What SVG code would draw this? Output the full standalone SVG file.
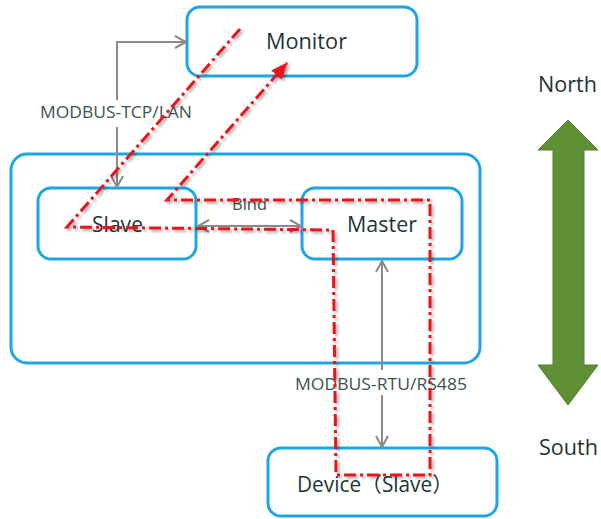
<svg xmlns="http://www.w3.org/2000/svg" width="601" height="519" viewBox="0 0 601 519">
<style>
.box{fill:#fff;stroke:#1ea5e3;stroke-width:3}
.name{font-family:"Open Sans","Noto Sans","Noto Sans CJK SC",sans-serif;font-size:21px;fill:#1d3535}
.lbl{font-family:"Open Sans","Noto Sans",sans-serif;font-size:16.5px;fill:#3d5252}
.gray{fill:none;stroke:#8a8a8a;stroke-width:2}
.red{fill:none;stroke:#e8141a;stroke-width:3;stroke-dasharray:12 4 3 4}
</style>
<defs>
<marker id="open" markerWidth="14" markerHeight="14" refX="12" refY="7" orient="auto-start-reverse" markerUnits="userSpaceOnUse">
<path d="M1,1 L12,7 L1,13" fill="none" stroke="#8a8a8a" stroke-width="2"/>
</marker>
<marker id="redhead" markerWidth="20" markerHeight="20" refX="16" refY="8" orient="auto" markerUnits="userSpaceOnUse">
<path d="M0,1 L17,8 L0,15 Z" fill="#e8141a"/>
</marker>
<filter id="sh" x="-10%" y="-10%" width="120%" height="120%">
<feDropShadow dx="2" dy="2" stdDeviation="1.5" flood-color="#000" flood-opacity="0.35"/>
</filter>
</defs>

<g id="outer"><rect class="box" x="11" y="154" width="469" height="209" rx="16"/></g>
<g id="monitor"><rect class="box" x="187" y="7" width="230" height="69" rx="13"/><text class="name" x="266" y="49" textLength="81" lengthAdjust="spacingAndGlyphs">Monitor</text></g>
<g id="slave"><rect class="box" x="38" y="188" width="158" height="71" rx="13"/><text class="name" x="92" y="232" textLength="51" lengthAdjust="spacingAndGlyphs">Slave</text></g>
<g id="master"><rect class="box" x="302" y="188" width="160" height="71" rx="13"/><text class="name" x="347" y="232" textLength="70" lengthAdjust="spacingAndGlyphs">Master</text></g>
<g id="device"><rect class="box" x="268" y="448" width="229" height="68" rx="13"/><text class="name" x="297" y="492" textLength="156" lengthAdjust="spacingAndGlyphs">Device（Slave）</text></g>

<g id="connectors">
<path class="gray" d="M117,100 V42 H186" marker-end="url(#open)"/>
<path class="gray" d="M117,127 V187" marker-end="url(#open)"/>
<text class="lbl" x="40" y="118" textLength="152" lengthAdjust="spacingAndGlyphs">MODBUS-TCP/LAN</text>
<path class="gray" d="M198,226 H301" marker-start="url(#open)" marker-end="url(#open)"/>
<text class="lbl" x="232" y="210" textLength="35" lengthAdjust="spacingAndGlyphs">Bind</text>
<path class="gray" d="M382,370 V261" marker-end="url(#open)"/>
<path class="gray" d="M382,395 V447" marker-end="url(#open)"/>
<text class="lbl" x="295" y="390" textLength="172" lengthAdjust="spacingAndGlyphs">MODBUS-RTU/RS485</text>
<path class="red" filter="url(#sh)" d="M240,29 L67,227 L333,230 L336,475 L430,475 L430,200 L167,200 L287,63" marker-end="url(#redhead)"/>
</g>

<g id="compass">
<path d="M568,120 L598,150 L584,150 L584,365 L598,365 L568,405 L538,365 L553,365 L553,150 L538,150 Z" fill="#5f9035" stroke="#52802c" stroke-width="1"/>
<text class="name" x="538" y="92" textLength="59" lengthAdjust="spacingAndGlyphs">North</text>
<text class="name" x="539" y="455" textLength="59" lengthAdjust="spacingAndGlyphs">South</text>
</g>
</svg>
